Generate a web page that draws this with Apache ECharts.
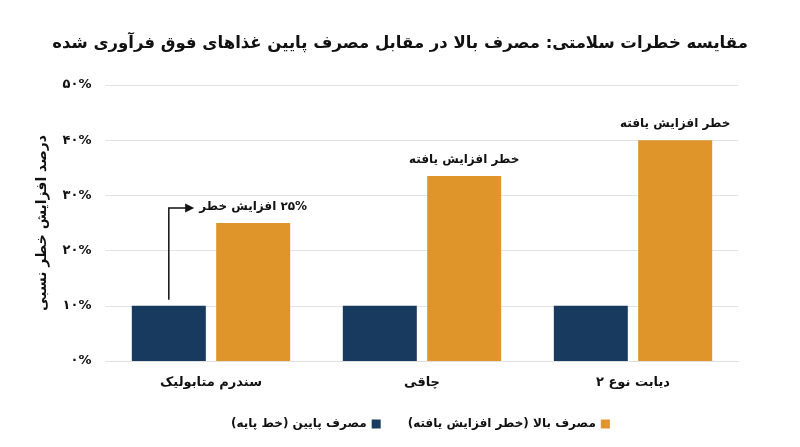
<!DOCTYPE html>
<html lang="fa">
<head>
    <meta charset="UTF-8">
    <title>مقایسه خطرات سلامتی</title>
    <script src="https://cdn.jsdelivr.net/npm/echarts@6/dist/echarts.min.js"></script>
    <style>
        html, body { margin: 0; padding: 0; background: #fff; }
        #chart { width: 800px; height: 447px; }
    </style>
</head>
<body>
    <!-- dir=rtl so the canvas lays out Persian text right-to-left -->
    <div id="chart" dir="rtl"></div>
    <script>
        // داده‌ها
        const categories = ['سندرم متابولیک', 'چاقی', 'دیابت نوع ۲']
        const lowValues = [10, 10, 10]
        const highValues = [25, 33.5, 40]
        const highLabels = ['۲۵% افزایش خطر', 'خطر افزایش یافته', 'خطر افزایش یافته']
        const yTickLabels = ['۰%', '۱۰%', '۲۰%', '۳۰%', '۴۰%', '۵۰%']
        const seriesNames = ['مصرف پایین (خط پایه)', 'مصرف بالا (خطر افزایش یافته)']

        const FONT = "'DejaVu Sans', sans-serif"
        const BLUE = '#183a5e'
        const ORANGE = '#df952a'

        var myChart = echarts.init(document.getElementById('chart'))
        var option = {
            animation: false,
            title: {
                text: 'مقایسه خطرات سلامتی: مصرف بالا در مقابل مصرف پایین غذاهای فوق فرآوری شده',
                left: 'center',
                top: 30,
                textStyle: { fontFamily: FONT, fontSize: 16.5, fontWeight: 'bold', color: '#111' }
            },
            legend: {
                data: seriesNames,
                left: 226,
                top: 413,
                align: 'right',
                icon: 'rect',
                itemWidth: 9,
                itemHeight: 9,
                itemGap: 27,
                textStyle: { fontFamily: FONT, fontSize: 12, fontWeight: 'bold', color: '#111' }
            },
            grid: { left: 105.5, right: 61.5, top: 85, bottom: 86 },
            xAxis: {
                type: 'category',
                data: categories,
                axisLine: { lineStyle: { color: '#e0e0e0' } },
                axisTick: { show: false },
                axisLabel: { fontFamily: FONT, fontSize: 13, fontWeight: 'bold', color: '#111', margin: 15 }
            },
            yAxis: {
                type: 'value',
                min: 0,
                max: 50,
                interval: 10,
                name: 'درصد افزایش خطر نسبی',
                nameLocation: 'middle',
                nameGap: 56,
                nameTextStyle: { fontFamily: FONT, fontSize: 14, fontWeight: 'bold', color: '#111' },
                axisLabel: {
                    fontFamily: FONT, fontSize: 13, fontWeight: 'bold', color: '#111', margin: 14,
                    formatter: (v) => yTickLabels[Math.round(v / 10)]
                },
                splitLine: { lineStyle: { color: '#e3e3e3' } }
            },
            series: [
                {
                    name: seriesNames[0],
                    type: 'bar',
                    data: lowValues,
                    barWidth: 74,
                    barGap: '14%',
                    itemStyle: { color: BLUE }
                },
                {
                    name: seriesNames[1],
                    type: 'bar',
                    data: highValues,
                    barWidth: 74,
                    itemStyle: { color: ORANGE },
                    label: {
                        show: true,
                        position: 'top',
                        distance: 10,
                        fontFamily: FONT, fontSize: 12, fontWeight: 'bold', color: '#111',
                        formatter: (p) => highLabels[p.dataIndex]
                    }
                }
            ]
        }
        myChart.setOption(option)

        // فلش از بالای ستون آبی به برچسب ستون نارنجی
        function drawArrow() {
            const low = myChart.getModel().getSeriesByIndex(0).getData().getItemLayout(0)
            const high = myChart.getModel().getSeriesByIndex(1).getData().getItemLayout(0)
            const x = low.x + low.width / 2
            const y0 = low.y + low.height - 6   // height is negative for bars growing up
            const y1 = high.y + high.height - 15
            const x1 = high.x - 23
            myChart.setOption({
                graphic: [
                    {
                        type: 'polyline',
                        shape: { points: [[x, y0], [x, y1], [x1 - 6, y1]] },
                        style: { stroke: '#111', lineWidth: 1.5, fill: null }
                    },
                    {
                        type: 'polygon',
                        shape: { points: [[x1 - 8, y1 - 4.5], [x1 + 1, y1], [x1 - 8, y1 + 4.5]] },
                        style: { fill: '#111' }
                    }
                ]
            })
        }
        drawArrow()
    </script>
</body>
</html>
